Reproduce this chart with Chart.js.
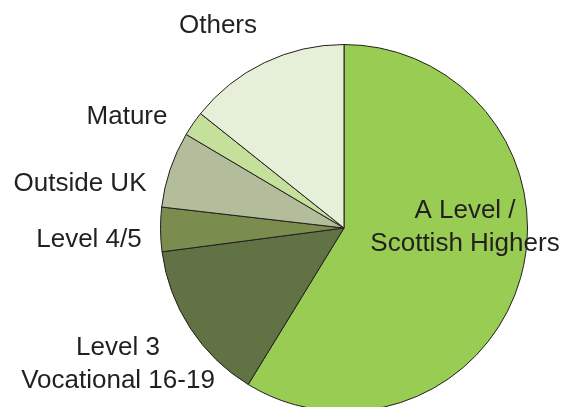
<!DOCTYPE html>
<html>
<head>
<meta charset="utf-8">
<script src="https://cdn.jsdelivr.net/npm/chart.js@4"></script>
<style>
    html, body { margin: 0; padding: 0; background: #fff; }
    #wrap { width: 571px; height: 407px; overflow: hidden; position: relative; }
</style>
</head>
<body>
<div id="wrap"><canvas id="myChart" width="571" height="440"></canvas></div>
<script>
// slices, clockwise from 12 o'clock
const categories = ['A Level / Scottish Highers', 'Level 3 Vocational 16-19', 'Level 4/5', 'Outside UK', 'Mature', 'Others'];
const shares = [58.8, 14.2, 3.9, 6.7, 2.2, 14.3];
const sliceColors = ['#99cc52', '#617244', '#7a8c4e', '#b3bc9b', '#c5e09a', '#e6f0d8'];

// label text lines for each slice (same order as categories)
const labelLines = [
    ['A Level /', 'Scottish Highers'],
    ['Level 3', 'Vocational 16-19'],
    ['Level 4/5'],
    ['Outside UK'],
    ['Mature'],
    ['Others']
];
// where each label block is centred on the page
const labelSpots = [[465, 227], [118, 364], [89, 240], [80, 184], [127, 117], [218, 26]];

const labelPlugin = {
    id: 'sliceLabels',
    afterDraw(chart) {
        const ctx = chart.ctx;
        ctx.save();
        ctx.font = '26px "Liberation Sans", Arial, sans-serif';
        ctx.fillStyle = '#231f20';
        ctx.textAlign = 'center';
        ctx.textBaseline = 'middle';
        labelLines.forEach((lines, i) => {
            const [x, y] = labelSpots[i];
            const lh = 33;
            const y0 = y - (lines.length - 1) * lh / 2;
            lines.forEach((t, j) => ctx.fillText(t, x, y0 + j * lh));
        });
        ctx.restore();
    }
};

new Chart(document.getElementById('myChart'), {
    type: 'pie',
    data: {
        labels: categories,
        datasets: [{
            data: shares,
            backgroundColor: sliceColors,
            borderColor: '#231f20',
            borderWidth: 1
        }]
    },
    options: {
        responsive: false,
        animation: false,
        layout: { padding: { left: 160, right: 43, top: 44, bottom: 28 } },
        plugins: {
            legend: { display: false },
            tooltip: { enabled: false }
        }
    },
    plugins: [labelPlugin]
});
</script>
</body>
</html>
